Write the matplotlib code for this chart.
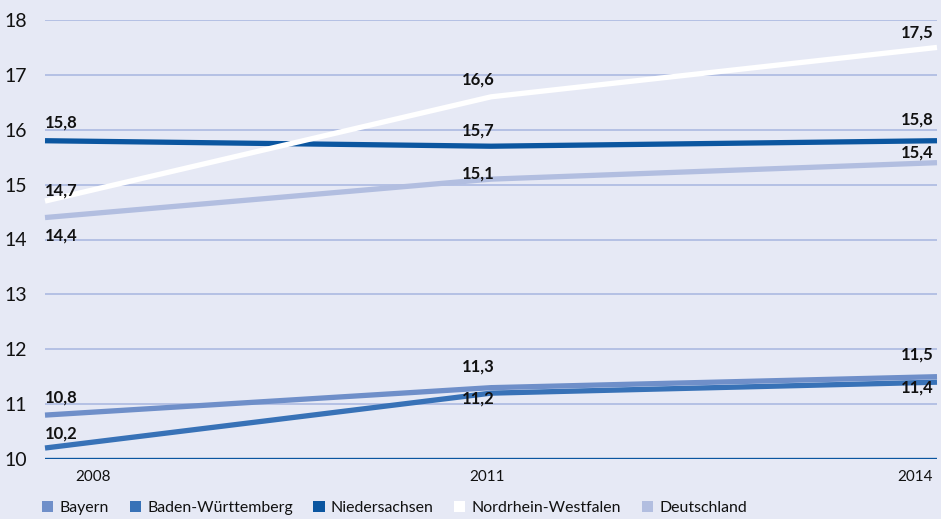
import matplotlib
matplotlib.use("Agg")
import matplotlib.pyplot as plt
from matplotlib.patches import Patch
from matplotlib.transforms import ScaledTranslation

plt.rcParams["font.family"] = ["Lato", "DejaVu Sans"]

years = [2008, 2011, 2014]
names = ["Bayern", "Baden-Württemberg", "Niedersachsen",
         "Nordrhein-Westfalen", "Deutschland"]
bayern = [10.8, 11.3, 11.5]
baden_wuerttemberg = [10.2, 11.2, 11.4]
niedersachsen = [15.8, 15.7, 15.8]
nordrhein_westfalen = [14.7, 16.6, 17.5]
deutschland = [14.4, 15.1, 15.4]
series = [bayern, baden_wuerttemberg, niedersachsen,
          nordrhein_westfalen, deutschland]

BG = "#e6e9f5"
colors = ["#6f8fc9", "#3872b7", "#0b56a0", "#ffffff", "#b2bee0"]
# draw order (lower first) and label offsets in pixels (dx, dy) per year
zorder = [4, 3, 2, 5, 1]
offsets = [
    [(0, 18), (-13, 21), (-3, 22)],
    [(0, 15), (-13, -5), (-3, -5)],
    [(0, 18), (-13, 16), (-3, 21)],
    [(0, 11), (-13, 17), (-3, 15)],
    [(0, -18), (-13, 6), (-3, 10)],
]
ha = ["left", "center", "right"]

fig = plt.figure(figsize=(9.41, 5.19), dpi=100, facecolor=BG)
ax = fig.add_axes([45 / 941, 1 - 459 / 519, 892 / 941, 439 / 519])
ax.set_facecolor(BG)
ax.set_xlim(2008, 2014)
ax.set_ylim(10, 18)

for v in range(11, 19):
    ax.axhline(v, color="#a7b6df", lw=1.1, zorder=0)
ax.axhline(10, color="#0b56a0", lw=2.4, zorder=0.5)

for vals, c, z, offs in zip(series, colors, zorder, offsets):
    ax.plot(years, vals, color=c, lw=3.8, solid_capstyle="butt",
            zorder=z, clip_on=False)
    for i, (x, y) in enumerate(zip(years, vals)):
        ax.annotate(f"{y:.1f}".replace(".", ","), (x, y),
                    xytext=offs[i], textcoords="offset pixels",
                    ha=ha[i], va="center", fontsize=12, fontweight="bold",
                    color="#111111", zorder=6)

for s in ax.spines.values():
    s.set_visible(False)
ax.set_yticks(range(10, 19))
ax.tick_params(axis="y", length=0, labelsize=14, pad=13, colors="#111111")
ax.set_xticks(years)
ax.set_xticklabels([str(y) for y in years])
ax.tick_params(axis="x", length=0, labelsize=11, pad=8, colors="#111111")
shift = [48, -4, -22]
for lab, dx in zip(ax.get_xticklabels(), shift):
    lab.set_transform(lab.get_transform() +
                      ScaledTranslation(dx / 100, 0, fig.dpi_scale_trans))

handles = [Patch(facecolor=c, edgecolor="none") for c in colors]
fig.legend(handles, names, loc="center left",
           bbox_to_anchor=(36 / 941, 1 - 508 / 519),
           ncol=5, frameon=False, fontsize=11.4, handlelength=0.7,
           handleheight=0.7, handletextpad=0.4, columnspacing=1.3,
           borderaxespad=0, labelcolor="#111111")

fig.savefig("out.png", dpi=100, facecolor=BG)
